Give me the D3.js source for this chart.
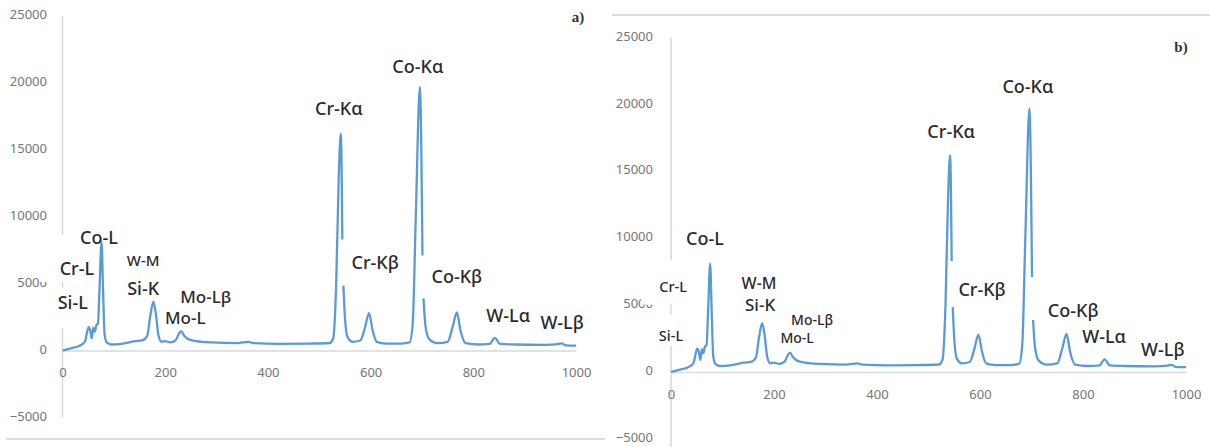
<!DOCTYPE html>
<html>
<head>
<meta charset="utf-8">
<script src="https://cdn.jsdelivr.net/npm/d3@7"></script>
<style>
  body { margin: 0; background: #fff; }
  svg { display: block; }
  .tick text { fill: #767676; font-family: "Noto Sans", sans-serif; font-size: 13px; }
  .peak { font-family: "Noto Sans", sans-serif; fill: #2b2b2b; font-weight: 500; }
  .tag { font-family: "Liberation Serif", "DejaVu Serif", serif; font-weight: bold; font-size: 15px; fill: #333; }
</style>
</head>
<body>
<svg id="chart" width="1210" height="447"></svg>
<script>
// EDS spectrum, channel vs counts (a and b show the same curve)
// null = the break in the line on the right flank of the two K-alpha peaks
var channel = [0,10,20,30,38,44,48,51,54,57,60,63,66,69,72,76,79,82,86,95,
    115,130,140,155,165,171,177,182,187,193,200,210,220,226,231,237,245,260,290,340,
    362,372,420,480,520,527,533,538,542,545,546,547,550,555,565,580,589,597,604,612,
    630,660,676,682,688,696,701,702,703,707,714,730,750,760,768,775,785,810,832,842,
    852,880,940,965,972,980,1000];
var counts = [0,100,200,300,450,700,1400,1750,1500,900,1700,1400,1900,2000,4500,8100,4500,1200,600,450,
    500,600,700,750,1100,2600,3650,2700,1100,650,700,600,750,1200,1450,1100,850,700,600,550,
    650,550,500,520,560,900,5000,13000,16200,8300,null,4850,2500,1000,650,750,1700,2800,1500,650,
    520,520,600,2000,10000,19700,7100,null,3900,1800,850,550,650,1800,2850,1500,550,450,500,950,
    500,450,420,480,540,380,360];

var xTicks = [0, 200, 400, 600, 800, 1000];
var yTicks = [-5000, 0, 5000, 10000, 15000, 20000, 25000];

var peakNames = ["Si-L", "Cr-L", "Co-L", "W-M", "Si-K", "Mo-L", "Mo-L\u03b2",
    "Cr-K\u03b1", "Cr-K\u03b2", "Co-K\u03b1", "Co-K\u03b2", "W-L\u03b1", "W-L\u03b2"];

var data = channel.map(function (c, i) { return { ch: c, v: counts[i] }; });

var svg = d3.select("#chart");

// label anchors are in channel / counts units, so they go through the scales too
var panels = [
    {
        left: 62.5, right: 576, top: 16, bottom: 417.4, axisEnd: null,
        yPad: 15.5, xPad: 17, tag: "a)", tagX: 578, tagY: 22,
        frame: { x1: 6, x2: 605, y: 439 },
        labels: {
            "Si-L": [20, 3630, 18], "Cr-L": [28, 6170, 18], "Co-L": [71, 8490, 18],
            "W-M": [157, 6770, 15], "Si-K": [157, 4670, 18], "Mo-L": [239, 2430, 17],
            "Mo-L\u03b2": [279, 4070, 17], "Cr-K\u03b1": [538, 18130, 18], "Cr-K\u03b2": [609, 6620, 18],
            "Co-K\u03b1": [692, 21270, 18], "Co-K\u03b2": [768, 5570, 18], "W-L\u03b1": [868, 2650, 18],
            "W-L\u03b2": [973, 2130, 18]
        },
        // white label boxes that hide parts of the axis (offsets from text centre)
        boxes: { "Cr-L": [-37, -33, 40, 14], "Si-L": [-28, -14, 40, 26] }
    },
    {
        left: 671, right: 1186, top: 37.5, bottom: 438.9, axisEnd: 447,
        yPad: 18, xPad: 18, tag: "b)", tagX: 1181, tagY: 52,
        frame: { x1: 612, x2: 1210, y: 15 },
        labels: {
            "Si-L": [0, 2760, 14.5], "Cr-L": [4, 6420, 14.5], "Co-L": [66, 10000, 18],
            "W-M": [171, 6640, 16], "Si-K": [173, 5070, 17], "Mo-L": [245, 2610, 14],
            "Mo-L\u03b2": [274, 3950, 14], "Cr-K\u03b1": [544, 17980, 18], "Cr-K\u03b2": [604, 6190, 18],
            "Co-K\u03b1": [693, 21340, 18], "Co-K\u03b2": [781, 4630, 18], "W-L\u03b1": [841, 2690, 18],
            "W-L\u03b2": [955, 1720, 18]
        },
        boxes: { "Cr-L": [-32, -26, 35, 18.5], "Si-L": [-25, -21, 35, 11] }
    }
];

panels.forEach(drawPanel);

function drawPanel(p) {
    var g = svg.append("g");

    var x = d3.scaleLinear().domain([0, 1000]).range([p.left, p.right]);
    var y = d3.scaleLinear().domain([-5000, 25000]).range([p.bottom, p.top]);

    // frame line of the chart box
    g.append("line")
        .attr("x1", p.frame.x1).attr("x2", p.frame.x2)
        .attr("y1", p.frame.y).attr("y2", p.frame.y)
        .attr("stroke", "#dcdcdc").attr("stroke-width", 2);

    // vertical axis line
    g.append("line")
        .attr("x1", x(0)).attr("x2", x(0))
        .attr("y1", y(25000)).attr("y2", p.axisEnd || y(-5000))
        .attr("stroke", "#d9d9d9").attr("stroke-width", 1.5);

    g.append("g")
        .attr("transform", "translate(" + x(0) + ",0)")
        .call(d3.axisLeft(y).tickValues(yTicks).tickSize(0).tickPadding(p.yPad).tickFormat(d3.format("d")))
        .call(function (a) { a.select(".domain").remove(); })
        .selectAll("text").attr("dy", "0.2em");

    g.append("g")
        .attr("transform", "translate(0," + y(0) + ")")
        .call(d3.axisBottom(x).tickValues(xTicks).tickSize(0).tickSizeOuter(0)
            .tickPadding(p.xPad).tickFormat(d3.format("d")))
        .call(function (a) { a.select(".domain").attr("stroke", "#d9d9d9").attr("stroke-width", 1.5); });

    // label boxes sit over the axis but under the spectrum
    peakNames.forEach(function (name) {
        var b = p.boxes[name];
        if (!b) return;
        var l = p.labels[name];
        g.append("rect")
            .attr("x", x(l[0]) + b[0]).attr("y", y(l[1]) + b[1])
            .attr("width", b[2] - b[0]).attr("height", b[3] - b[1])
            .attr("fill", "#fff");
    });

    var line = d3.line()
        .defined(function (d) { return d.v !== null; })
        .x(function (d) { return x(d.ch); })
        .y(function (d) { return y(d.v); })
        .curve(d3.curveMonotoneX);

    g.append("path")
        .datum(data)
        .attr("fill", "none")
        .attr("stroke", "#5b9bd5")
        .attr("stroke-width", 2.3)
        .attr("stroke-linejoin", "round")
        .attr("d", line);

    peakNames.forEach(function (name) {
        var l = p.labels[name];
        g.append("text")
            .attr("class", "peak")
            .attr("x", x(l[0])).attr("y", y(l[1]))
            .attr("text-anchor", "middle")
            .attr("dominant-baseline", "central")
            .style("font-size", l[2] + "px")
            .text(name);
    });

    g.append("text")
        .attr("class", "tag")
        .attr("x", p.tagX).attr("y", p.tagY)
        .attr("text-anchor", "middle")
        .text(p.tag);
}
</script>
</body>
</html>
